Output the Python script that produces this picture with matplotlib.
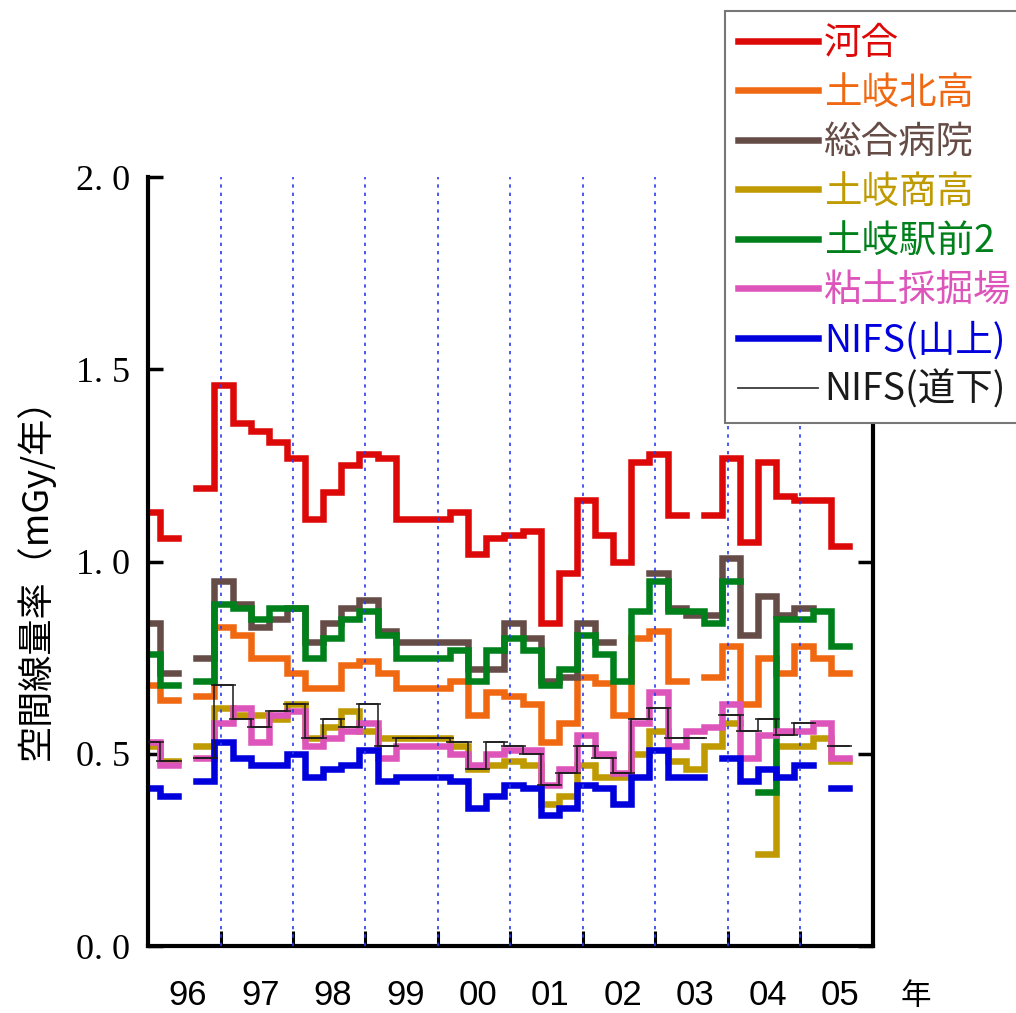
import numpy as np
import matplotlib.pyplot as plt

nan = np.nan

# quarterly (Dec-Feb, Mar-May, Jun-Aug, Sep-Nov) dose rates, mGy/year, 1996-2005
years = ['96', '97', '98', '99', '00', '01', '02', '03', '04', '05']

kawai = [1.13, 1.06, nan, 1.19, 1.46, 1.36, 1.34, 1.31, 1.27, 1.11,
         1.18, 1.25, 1.28, 1.27, 1.11, 1.11, 1.11, 1.13, 1.02, 1.06,
         1.07, 1.08, 0.84, 0.97, 1.16, 1.07, 1.00, 1.26, 1.28, 1.12,
         nan, 1.12, 1.27, 1.05, 1.26, 1.17, 1.16, 1.16, 1.04]
toki_kita = [0.68, 0.64, nan, 0.65, 0.83, 0.81, 0.75, 0.75, 0.71, 0.67,
             0.67, 0.73, 0.74, 0.71, 0.67, 0.67, 0.67, 0.69, 0.60, 0.66,
             0.65, 0.63, 0.53, 0.58, 0.70, 0.685, 0.60, 0.80, 0.82, 0.69,
             nan, 0.70, 0.78, 0.63, 0.75, 0.71, 0.78, 0.75, 0.71]
byoin = [0.84, 0.71, nan, 0.75, 0.95, 0.89, 0.83, 0.85, 0.88, 0.79,
         0.84, 0.88, 0.90, 0.82, 0.79, 0.79, 0.79, 0.79, 0.72, 0.72,
         0.84, 0.80, 0.69, 0.70, 0.84, 0.79, nan, nan, 0.97, 0.88,
         0.86, 0.86, 1.01, 0.81, 0.91, 0.86, 0.88, nan, nan]
toki_sho = [0.52, 0.48, nan, 0.52, 0.62, 0.60, 0.60, 0.59, 0.63, 0.54,
            0.57, 0.61, 0.56, 0.54, 0.54, 0.54, 0.54, 0.52, 0.46, 0.47,
            0.48, 0.47, 0.37, 0.39, 0.47, 0.44, 0.44, 0.50, 0.56, 0.48,
            0.46, 0.52, 0.58, nan, 0.24, 0.52, 0.52, 0.54, 0.48]
ekimae = [0.76, 0.68, nan, 0.69, 0.89, 0.88, 0.85, 0.88, 0.88, 0.75,
          0.80, 0.85, 0.87, 0.81, 0.75, 0.75, 0.75, 0.77, 0.69, 0.77,
          0.80, 0.77, 0.68, 0.72, 0.81, 0.76, 0.69, 0.87, 0.95, 0.87,
          0.87, 0.84, 0.95, nan, 0.40, 0.85, 0.85, 0.87, 0.78]
nendo = [0.53, 0.47, nan, 0.49, 0.58, 0.62, 0.53, 0.60, 0.61, 0.52,
         0.54, 0.56, 0.58, 0.49, 0.52, 0.52, 0.52, 0.50, 0.47, 0.50,
         0.51, 0.51, 0.42, 0.46, 0.55, 0.50, 0.45, 0.58, 0.66, 0.52,
         0.56, 0.57, 0.63, 0.49, 0.55, 0.56, 0.56, 0.58, 0.49]
nifs_yama = [0.41, 0.39, nan, 0.43, 0.53, 0.49, 0.47, 0.47, 0.50, 0.44,
             0.46, 0.47, 0.51, 0.43, 0.44, 0.44, 0.44, 0.43, 0.36, 0.39,
             0.42, 0.41, 0.34, 0.36, 0.42, 0.41, 0.37, 0.44, 0.51, 0.44,
             0.44, nan, 0.49, 0.43, 0.46, 0.44, 0.47, nan, 0.41]
nifs_michi = [0.53, 0.48, nan, 0.49, 0.68, 0.59, 0.57, 0.61, 0.63, 0.54,
              0.59, 0.57, 0.63, 0.52, 0.54, 0.54, 0.54, 0.53, 0.46, 0.53,
              0.52, 0.50, 0.42, 0.45, 0.52, 0.49, 0.45, 0.59, 0.62, 0.54,
              0.54, nan, 0.60, 0.56, 0.59, 0.55, 0.58, nan, 0.52]

names = ['河合', '土岐北高', '総合病院', '土岐商高', '土岐駅前2', '粘土採掘場',
         'NIFS(山上)', 'NIFS(道下)']
colors = ['#dd0808', '#f06812', '#664c46', '#bf9a00', '#00801a', '#dd55bb',
          '#0000dd', '#1a1a1a']
series = [kawai, toki_kita, byoin, toki_sho, ekimae, nendo, nifs_yama]

# quarter boundaries in years from Jan 1996 (quarters start in December)
edges = np.arange(40) / 4 - 1 / 12

cjk = ['Noto Sans CJK JP', 'DejaVu Sans']

fig = plt.figure(figsize=(10.16, 10.13), dpi=100)
ax = fig.add_axes([148 / 1016, 67 / 1013, 725 / 1016, 769 / 1013])

for name, vals, col in zip(names, series, colors):
    v = np.asarray(vals, float)
    ax.plot(edges, np.append(v, v[-1]), drawstyle='steps-post', color=col,
            lw=4.7, solid_capstyle='projecting', solid_joinstyle='miter',
            label=name, zorder=2)

v = np.asarray(nifs_michi, float)
ax.plot(edges, np.append(v, v[-1]), drawstyle='steps-post', color=colors[7],
        lw=1.3, alpha=0.85, label=names[7], zorder=4)
ax.hlines(v, edges[:-1] - 0.05, edges[1:] + 0.05, color=colors[7], lw=1.3,
          alpha=0.85, zorder=4)

for yr in range(1, 10):
    ax.axvline(yr, color='#2a3cf0', lw=1.2, ls=(0, (2, 3)), zorder=3)

ax.set_xlim(0, 10)
ax.set_ylim(0, 2)
ax.spines['top'].set_visible(False)
for s in ['left', 'right', 'bottom']:
    ax.spines[s].set_linewidth(3)

ax.set_xticks(range(1, 10))
ax.set_xticklabels([])
ax.tick_params(axis='x', direction='in', length=11, width=2.2)
ax.set_yticks([0, 0.5, 1.0, 1.5, 2.0])
ax.set_yticklabels(['0. 0', '0. 5', '1. 0', '1. 5', '2. 0'],
                   family='Liberation Serif', fontsize=26)
ax.tick_params(axis='y', direction='in', length=11, width=2.5, right=True,
               pad=13)

# year labels sit under the middle of each year, baseline just above the edge
for i, yl in enumerate(years):
    ax.text(i + 0.55, -0.077, yl, transform=ax.get_xaxis_transform(),
            ha='center', va='baseline', fontsize=25,
            family='Liberation Sans')
ax.text(10.59, -0.077, '年', transform=ax.get_xaxis_transform(),
        ha='center', va='baseline', fontsize=22, family=cjk)

fig.text(35 / 1016, 1 - 570 / 1013, '空間線量率（mGy/年）', rotation=90,
         ha='center', va='center', fontsize=26, family=cjk)

leg = fig.legend(loc='upper left', bbox_to_anchor=(725 / 1016, 1 - 11 / 1013),
                 borderaxespad=0, fancybox=False, framealpha=1,
                 edgecolor='#777777', labelcolor='linecolor',
                 prop={'family': cjk, 'size': 27}, handlelength=2.13,
                 handletextpad=0.16, borderpad=0.35, labelspacing=0.28)
leg.get_frame().set_linewidth(1.5)

fig.savefig('out.png', dpi=100)
